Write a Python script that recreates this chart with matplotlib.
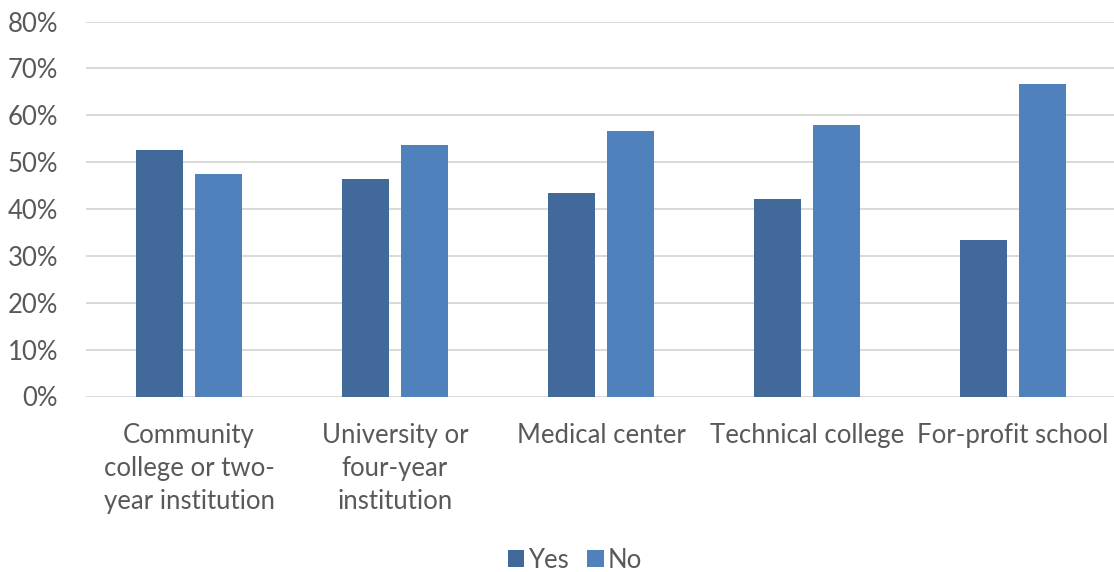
import numpy as np
import matplotlib.pyplot as plt
from matplotlib.ticker import PercentFormatter

categories = ["Community\ncollege or two-\nyear institution",
              "University or\nfour-year\ninstitution",
              "Medical center",
              "Technical college",
              "For-profit school"]
yes_values = [52.5, 46.4, 43.4, 42.1, 33.3]
no_values = [47.5, 53.6, 56.6, 57.9, 66.7]

plt.rcParams['font.family'] = ['Lato', 'DejaVu Sans']
text_color = '#595959'

fig = plt.figure(figsize=(11.14, 5.72), dpi=100)
ax = fig.add_axes([86 / 1114, 1 - 396.5 / 572, (1116 - 86) / 1114, (396.5 - 21.5) / 572])

x = np.arange(len(categories))
width = 0.225
offset = 0.143
ax.bar(x - offset, yes_values, width, color='#416A9B', label='Yes', zorder=3)
ax.bar(x + offset, no_values, width, color='#4F81BD', label='No', zorder=3)

ax.set_xlim(-0.5, len(categories) - 0.5)
ax.set_ylim(0, 80)
ax.set_yticks(np.arange(0, 81, 10))
ax.yaxis.set_major_formatter(PercentFormatter(decimals=0))
ax.grid(axis='y', color='#D9D9D9', linewidth=1.4, zorder=0)
ax.set_xticks(x)
ax.set_xticklabels(categories, fontsize=18.5, color=text_color, linespacing=1.4, va='top')
ax.tick_params(axis='y', labelsize=18.5, labelcolor=text_color, length=0, pad=20)
ax.tick_params(axis='x', length=0, pad=19)
for s in ax.spines.values():
    s.set_visible(False)

# legend sits a bit right of the figure centre, under the plot area
fig.legend(loc='lower center', bbox_to_anchor=(0.516, -0.042), ncol=2, frameon=False,
           fontsize=18.5, labelcolor=text_color, handlelength=0.65, handleheight=0.65,
           handletextpad=0.15, columnspacing=0.7)

fig.savefig('out.png', dpi=100)
